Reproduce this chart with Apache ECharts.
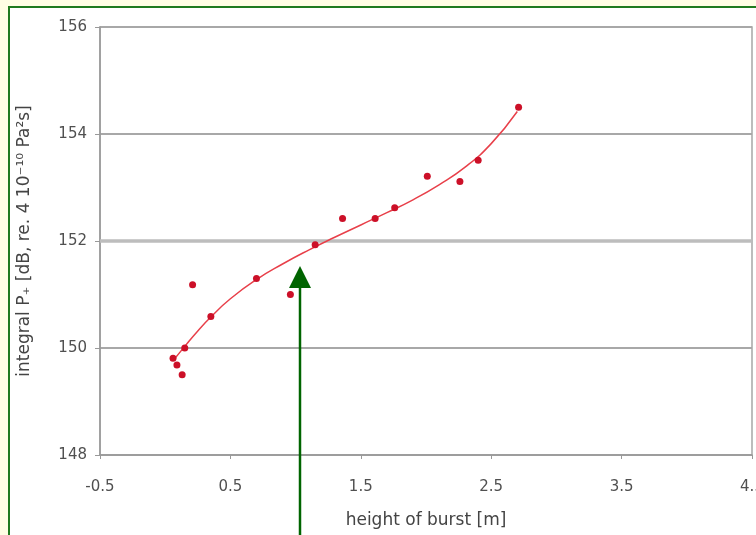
<!DOCTYPE html>
<html>
<head>
<meta charset="utf-8">
<script src="https://cdn.jsdelivr.net/npm/echarts@6/dist/echarts.min.js"></script>
<style>
html,body{margin:0;padding:0;background:#FFFEE4;}
#c{width:756px;height:535px;}
</style>
</head>
<body>
<div id="c"></div>
<script>
// measured points: height of burst [m], integral P [dB]
var burstHeights = [0.06, 0.09, 0.13, 0.15, 0.21, 0.35, 0.70, 0.96, 1.15, 1.36, 1.61, 1.76, 2.01, 2.26, 2.40, 2.71];
var integralP    = [149.81, 149.68, 149.50, 150.00, 151.18, 150.59, 151.30, 151.00, 151.93, 152.42, 152.42, 152.62, 153.21, 153.11, 153.51, 154.50];

// trend curve
var trendX = [0.06, 0.15, 0.25, 0.35, 0.50, 0.70, 0.90, 1.10, 1.30, 1.50, 1.70, 1.90, 2.10, 2.30, 2.50, 2.70];
var trendY = [149.76, 150.03, 150.32, 150.58, 150.92, 151.28, 151.57, 151.83, 152.07, 152.30, 152.53, 152.77, 153.05, 153.38, 153.82, 154.42];

var xTicks = [-0.5, 0.5, 1.5, 2.5, 3.5, 4.5];
var arrowX = 1.03;

var chart = echarts.init(document.getElementById('c'), null, {renderer: 'canvas'});

var pts = burstHeights.map(function (x, i) { return [x, integralP[i]]; });
var trend = trendX.map(function (x, i) { return [x, trendY[i]]; });

var FONT = 'DejaVu Sans';

var frame = {
  type: 'rect', z: -10, silent: true,
  shape: {x: 9, y: 7, width: 800, height: 600},
  style: {fill: '#ffffff', stroke: '#1f7a1f', lineWidth: 2}
};

var option = {
  backgroundColor: '#FFFEE4',
  animation: false,
  graphic: [frame],
  grid: {left: 100, right: 4, top: 27, bottom: 80, outerBoundsMode: 'none', containLabel: false,
    show: true, borderColor: '#a6a6a6', borderWidth: 1.5, backgroundColor: 'transparent'},
  xAxis: {
    type: 'value', min: -0.5, max: 4.5,
    name: 'height of burst [m]', nameLocation: 'middle', nameGap: 57,
    nameTextStyle: {fontFamily: FONT, fontSize: 17, color: '#444'},
    axisLine: {onZero: false, lineStyle: {color: '#999', width: 1.5}},
    axisTick: {show: true, length: 4, customValues: xTicks, lineStyle: {color: '#999'}},
    axisLabel: {customValues: xTicks, margin: 25, fontFamily: FONT, fontSize: 15, color: '#505050',
      formatter: function (v) { return String(v); }},
    splitLine: {show: false}
  },
  yAxis: {
    type: 'value', min: 148, max: 156, interval: 2,
    name: 'integral P\u208A [dB, re. 4 10\u207B\u00B9\u2070 Pa\u00B2s]', nameLocation: 'middle', nameGap: 67,
    nameTextStyle: {fontFamily: FONT, fontSize: 17, color: '#444'},
    axisLine: {show: true, onZero: false, lineStyle: {color: '#999', width: 1.5}},
    axisTick: {show: true, length: 5, lineStyle: {color: '#999'}},
    axisLabel: {margin: 13, fontFamily: FONT, fontSize: 15, color: '#505050'},
    splitLine: {show: true, lineStyle: {color: '#a8a8a8', width: 2}}
  },
  series: [
    {
      type: 'line', data: trend, smooth: 0.5, showSymbol: false, z: 2,
      lineStyle: {color: '#e8404a', width: 1.5},
      markLine: {
        silent: true, symbol: 'none', label: {show: false},
        lineStyle: {color: '#bdbdbd', width: 3.5, type: 'solid'},
        data: [{yAxis: 152}], z: 1
      }
    },
    {
      type: 'scatter', data: pts, symbolSize: 7, z: 3,
      itemStyle: {color: '#cc1028', opacity: 1}
    }
  ]
};
chart.setOption(option);

// annotation arrow pointing at the curve
var tip = chart.convertToPixel({gridIndex: 0}, [arrowX, 151.55]);
var ax = Math.round(tip[0]);
var ty = Math.round(tip[1]) + 1;
chart.setOption({
  graphic: [
    frame,
    {
      type: 'line', z: 100, silent: true,
      shape: {x1: ax, y1: ty + 18, x2: ax, y2: 540},
      style: {stroke: '#006400', lineWidth: 2.5}
    },
    {
      type: 'polygon', z: 100, silent: true,
      shape: {points: [[ax, ty], [ax - 11, ty + 22], [ax + 11, ty + 22]]},
      style: {fill: '#006400'}
    }
  ]
}, {replaceMerge: ['graphic']});
</script>
</body>
</html>
